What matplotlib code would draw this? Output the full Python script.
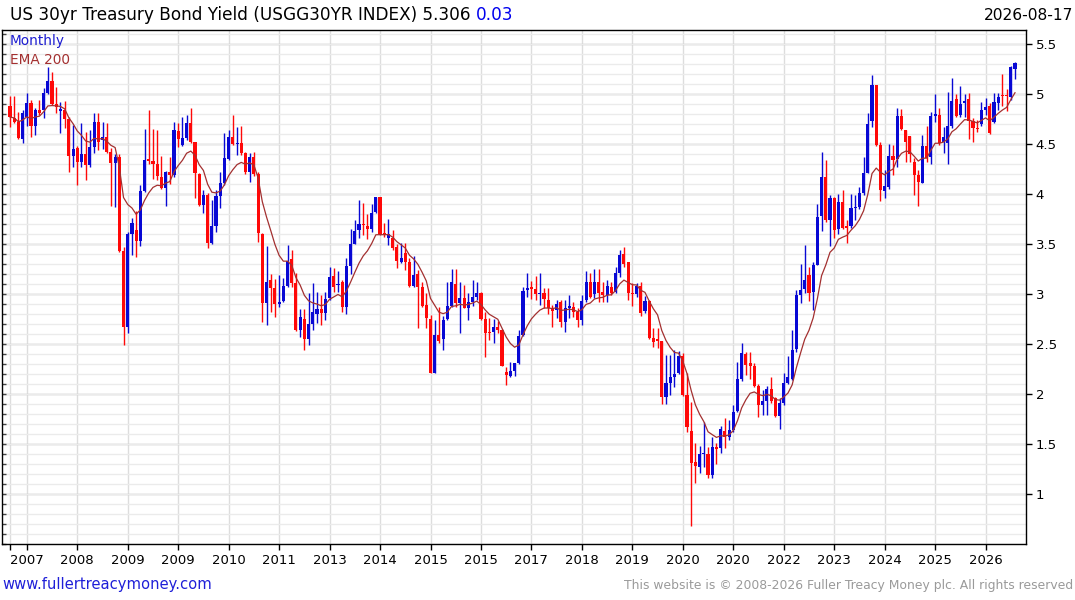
import matplotlib
matplotlib.use("Agg")
import matplotlib.pyplot as plt
import numpy as np
import pandas as pd

# ---------------- data (monthly candles, Sep 2006 .. Aug 2026) ----------------
start_month = "2006-09"
opens = [4.88, 4.76, 4.72, 4.55, 4.77, 4.91, 4.68, 4.84, 4.84, 5.01, 5.13, 4.90, 4.83, 4.84, 4.75, 4.38,
         4.46, 4.32, 4.40, 4.29, 4.47, 4.72, 4.54, 4.57, 4.42, 4.31, 4.37, 3.43, 2.67, 3.60, 3.64, 3.53,
         4.03, 4.35, 4.33, 4.30, 4.17, 4.06, 4.22, 4.19, 4.63, 4.49, 4.56, 4.71, 4.52, 4.20, 3.89, 3.99,
         3.51, 3.68, 3.98, 4.11, 4.35, 4.57, 4.50, 4.51, 4.41, 4.22, 4.37, 4.20, 3.60, 2.91, 3.14, 3.06,
         2.90, 2.93, 3.08, 3.35, 3.11, 2.64, 2.75, 2.55, 2.70, 2.80, 2.85, 2.81, 2.96, 3.18, 3.09, 3.12,
         2.87, 3.28, 3.50, 3.64, 3.70, 3.68, 3.65, 3.82, 3.97, 3.61, 3.56, 3.56, 3.47, 3.32, 3.41, 3.32,
         3.08, 3.20, 3.07, 2.89, 2.75, 2.21, 2.59, 2.55, 2.75, 2.88, 3.10, 2.91, 2.96, 2.86, 2.92, 2.97,
         3.01, 2.75, 2.62, 2.62, 2.67, 2.64, 2.22, 2.18, 2.23, 2.31, 2.59, 3.04, 3.07, 3.05, 3.00, 3.01,
         2.94, 2.86, 2.84, 2.92, 2.72, 2.86, 2.87, 2.82, 2.74, 2.94, 3.12, 3.00, 3.12, 3.02, 2.99, 3.07,
         3.02, 3.21, 3.40, 3.32, 3.01, 3.00, 3.08, 2.83, 2.93, 2.56, 2.55, 2.53, 1.97, 2.11, 2.17, 2.21,
         2.38, 1.99, 1.63, 1.32, 1.27, 1.40, 1.40, 1.19, 1.47, 1.46, 1.63, 1.57, 1.64, 1.83, 2.15, 2.40,
         2.31, 2.28, 2.08, 1.89, 1.93, 2.05, 1.96, 1.78, 1.91, 2.11, 2.15, 2.45, 2.99, 3.05, 3.19, 3.02,
         3.29, 3.78, 4.17, 3.74, 3.96, 3.65, 3.92, 3.68, 3.68, 3.86, 3.87, 4.01, 4.21, 4.73, 5.09, 4.49,
         4.03, 4.07, 4.38, 4.35, 4.78, 4.64, 4.58, 4.32, 4.19, 4.11, 4.48, 4.37, 4.78, 4.79, 4.52, 4.51,
         4.68, 4.95, 4.79, 4.91, 4.95, 4.73, 4.66, 4.70, 4.84, 4.88, 4.72, 4.91, 4.99, 4.99, 4.97, 5.25]
highs = [4.98, 4.98, 4.82, 4.84, 5.01, 4.94, 4.86, 4.94, 5.06, 5.27, 5.22, 5.07, 4.92, 4.93, 4.77, 4.69,
         4.48, 4.71, 4.62, 4.64, 4.81, 4.81, 4.72, 4.71, 4.46, 4.40, 4.40, 3.47, 3.62, 3.76, 3.83, 4.09,
         4.65, 4.84, 4.65, 4.64, 4.38, 4.23, 4.37, 4.72, 4.71, 4.77, 4.79, 4.86, 4.52, 4.21, 4.04, 4.01,
         3.94, 4.04, 4.22, 4.61, 4.64, 4.79, 4.67, 4.68, 4.42, 4.41, 4.42, 4.22, 3.61, 3.48, 3.20, 3.15,
         3.19, 3.16, 3.49, 3.44, 3.21, 2.85, 2.85, 3.01, 3.11, 3.02, 2.99, 3.02, 3.27, 3.26, 3.23, 3.14,
         3.36, 3.65, 3.74, 3.94, 3.91, 3.80, 3.90, 3.97, 3.97, 3.71, 3.75, 3.64, 3.50, 3.51, 3.51, 3.36,
         3.38, 3.24, 3.12, 3.01, 2.79, 2.74, 2.87, 2.78, 3.12, 3.25, 3.25, 3.12, 3.09, 3.01, 3.14, 3.12,
         3.02, 2.82, 2.76, 2.75, 2.73, 2.65, 2.27, 2.32, 2.31, 2.64, 3.07, 3.21, 3.13, 3.18, 3.21, 3.06,
         3.06, 2.89, 2.94, 2.94, 2.94, 2.99, 2.92, 2.86, 2.99, 3.23, 3.21, 3.25, 3.25, 3.12, 3.14, 3.12,
         3.27, 3.44, 3.47, 3.32, 3.11, 3.11, 3.12, 2.98, 2.94, 2.66, 2.66, 2.53, 2.39, 2.39, 2.44, 2.43,
         2.41, 2.21, 1.92, 1.51, 1.48, 1.72, 1.47, 1.57, 1.51, 1.68, 1.76, 1.74, 1.89, 2.32, 2.51, 2.42,
         2.42, 2.31, 2.10, 2.04, 2.08, 2.17, 1.97, 1.96, 2.21, 2.38, 2.64, 3.04, 3.30, 3.49, 3.27, 3.32,
         3.90, 4.42, 4.34, 3.99, 3.97, 4.00, 4.04, 3.74, 4.00, 3.99, 4.07, 4.37, 4.81, 5.19, 5.09, 4.52,
         4.24, 4.50, 4.49, 4.86, 4.85, 4.64, 4.58, 4.36, 4.24, 4.59, 4.68, 4.82, 5.00, 4.86, 4.67, 5.02,
         5.16, 5.00, 5.08, 5.00, 5.01, 4.76, 4.74, 4.92, 4.96, 4.91, 5.01, 5.01, 5.20, 5.05, 5.28, 5.32]
lows = [4.67, 4.71, 4.55, 4.51, 4.68, 4.57, 4.59, 4.79, 4.76, 5.00, 4.89, 4.81, 4.61, 4.66, 4.22, 4.27,
        4.09, 4.27, 4.14, 4.27, 4.41, 4.44, 4.45, 4.41, 3.88, 3.87, 3.42, 2.49, 2.61, 3.39, 3.37, 3.48,
        4.02, 4.30, 4.15, 4.14, 4.05, 3.88, 4.10, 4.17, 4.47, 4.48, 4.54, 4.51, 3.96, 3.88, 3.81, 3.46,
        3.50, 3.62, 3.86, 4.09, 4.34, 4.49, 4.39, 4.39, 4.20, 4.12, 4.18, 3.52, 2.72, 2.69, 2.82, 2.77,
        2.87, 2.92, 3.07, 3.07, 2.63, 2.57, 2.44, 2.49, 2.64, 2.71, 2.69, 2.74, 2.94, 3.02, 3.02, 2.82,
        2.80, 3.20, 3.50, 3.56, 3.59, 3.55, 3.62, 3.81, 3.59, 3.57, 3.49, 3.44, 3.26, 3.31, 3.24, 3.07,
        3.07, 2.66, 2.87, 2.66, 2.21, 2.21, 2.51, 2.44, 2.74, 2.87, 2.87, 2.61, 2.86, 2.74, 2.88, 2.94,
        2.74, 2.37, 2.54, 2.51, 2.61, 2.28, 2.09, 2.17, 2.18, 2.30, 2.58, 2.97, 2.95, 2.94, 2.89, 2.86,
        2.80, 2.67, 2.76, 2.67, 2.62, 2.76, 2.77, 2.67, 2.69, 2.92, 2.96, 2.96, 2.92, 2.92, 2.92, 2.99,
        3.01, 3.17, 3.27, 2.94, 2.88, 2.97, 2.78, 2.81, 2.55, 2.47, 2.46, 1.90, 1.90, 1.99, 2.07, 2.20,
        1.98, 1.62, 0.68, 1.11, 1.21, 1.27, 1.16, 1.16, 1.30, 1.41, 1.46, 1.54, 1.62, 1.82, 2.13, 2.19,
        2.15, 2.07, 1.77, 1.79, 1.79, 1.91, 1.77, 1.65, 1.89, 2.10, 2.14, 2.42, 2.91, 3.01, 2.93, 2.84,
        3.29, 3.63, 3.72, 3.48, 3.56, 3.60, 3.65, 3.51, 3.66, 3.74, 3.85, 3.99, 4.21, 4.67, 4.48, 3.93,
        3.96, 4.05, 4.19, 4.27, 4.64, 4.32, 4.32, 3.99, 3.88, 4.11, 4.32, 4.30, 4.72, 4.49, 4.41, 4.30,
        4.66, 4.77, 4.77, 4.77, 4.55, 4.52, 4.62, 4.68, 4.79, 4.60, 4.71, 4.84, 4.88, 4.83, 4.94, 5.15]
closes = [4.77, 4.72, 4.56, 4.81, 4.91, 4.68, 4.84, 4.81, 5.01, 5.13, 4.90, 4.87, 4.85, 4.75, 4.38, 4.45,
          4.32, 4.40, 4.29, 4.47, 4.72, 4.52, 4.57, 4.42, 4.31, 4.37, 3.43, 2.67, 3.60, 3.71, 3.53, 4.03,
          4.34, 4.33, 4.30, 4.18, 4.06, 4.22, 4.19, 4.64, 4.55, 4.56, 4.71, 4.52, 4.21, 3.89, 3.99, 3.51,
          3.68, 3.98, 4.11, 4.36, 4.57, 4.50, 4.51, 4.41, 4.22, 4.37, 4.20, 3.61, 2.91, 3.12, 3.06, 2.90,
          2.92, 3.08, 3.33, 3.11, 2.64, 2.77, 2.55, 2.70, 2.82, 2.85, 2.81, 2.95, 3.17, 3.07, 3.10, 2.87,
          3.28, 3.50, 3.63, 3.70, 3.69, 3.65, 3.81, 3.97, 3.60, 3.59, 3.60, 3.46, 3.33, 3.36, 3.32, 3.08,
          3.19, 3.07, 2.88, 2.76, 2.21, 2.59, 2.53, 2.74, 2.88, 3.12, 2.91, 2.96, 2.86, 2.92, 2.97, 3.01,
          2.75, 2.61, 2.61, 2.67, 2.64, 2.28, 2.19, 2.23, 2.31, 2.58, 3.03, 3.06, 3.05, 3.00, 3.01, 2.95,
          2.86, 2.83, 2.90, 2.72, 2.86, 2.88, 2.82, 2.74, 2.93, 3.12, 2.97, 3.12, 3.01, 2.99, 3.08, 3.01,
          3.21, 3.39, 3.30, 3.01, 3.00, 3.08, 2.81, 2.93, 2.56, 2.52, 2.53, 1.97, 2.11, 2.17, 2.20, 2.38,
          1.99, 1.67, 1.31, 1.28, 1.40, 1.41, 1.19, 1.47, 1.45, 1.65, 1.57, 1.64, 1.82, 2.15, 2.41, 2.29,
          2.28, 2.08, 1.89, 1.93, 2.05, 1.93, 1.78, 1.91, 2.11, 2.17, 2.44, 2.99, 3.04, 3.14, 3.01, 3.29,
          3.77, 4.17, 3.74, 3.96, 3.64, 3.92, 3.66, 3.66, 3.86, 3.87, 4.01, 4.21, 4.70, 5.09, 4.49, 4.04,
          4.08, 4.38, 4.34, 4.78, 4.65, 4.52, 4.40, 4.19, 4.12, 4.48, 4.36, 4.78, 4.80, 4.51, 4.57, 4.68,
          4.93, 4.78, 4.90, 4.93, 4.73, 4.66, 4.65, 4.84, 4.87, 4.61, 4.92, 4.97, 4.98, 4.98, 5.27, 5.31]

x_tick_labels = ['2007', '2008', '2009', '2009', '2010', '2011', '2013', '2014', '2015', '2015',
                 '2017', '2018', '2019', '2020', '2020', '2022', '2023', '2024', '2025', '2026']
y_tick_values = [1, 1.5, 2, 2.5, 3, 3.5, 4, 4.5, 5, 5.5]
ema_alpha = 0.19

title_main = "US 30yr Treasury Bond Yield (USGG30YR INDEX) 5.306 "
title_change = "0.03"
date_text = "2026-08-17"

# ---------------- derived ----------------
months = pd.period_range(start_month, periods=len(closes), freq="M")
idx = np.arange(len(closes))
o = np.array(opens); h = np.array(highs); l = np.array(lows); c = np.array(closes)
up = c >= o
ema = pd.Series(closes).ewm(alpha=ema_alpha, adjust=False).mean().values
jan_idx = [i for i, m in enumerate(months) if m.month == 1]

BLUE = "#0808d4"
RED = "#ff0808"

W, H = 1075, 600
fig = plt.figure(figsize=(W / 100, H / 100), dpi=100)
ax_l, ax_r, ax_t, ax_b = 1.5, 1026, 30, 544
ax = fig.add_axes([ax_l / W, (H - ax_b) / H, (ax_r - ax_l) / W, (ax_b - ax_t) / H])

px_per_unit = 1005 / 239
xmin = -(10 - ax_l) / px_per_unit
xmax = xmin + (ax_r - ax_l) / px_per_unit
ax.set_xlim(xmin, xmax)
ax.set_ylim(0.5, 5.64)

# grid
ax.set_yticks(y_tick_values)
ax.set_yticklabels([f"{v:g}" for v in y_tick_values])
ax.set_yticks(np.arange(0.5, 5.65, 0.1), minor=True)
ax.yaxis.remove_overlapping_locs = False
ax.grid(which="minor", axis="y", color="#ebebeb", lw=1, zorder=0)
ax.grid(which="major", axis="y", color="#bcbcbc", lw=1, zorder=0)
ax.set_xticks([0] + jan_idx)
ax.set_xticklabels([""] + x_tick_labels[:len(jan_idx)])
ax.grid(which="major", axis="x", color="#dddddd", lw=1, zorder=0)
ax.set_axisbelow(True)

ax.yaxis.tick_right()
ax.tick_params(axis="y", which="major", left=False, right=True, labelleft=False,
               labelright=True, direction="out", length=4, width=1, labelsize=9.5, pad=3)
ax.tick_params(axis="y", which="minor", left=True, right=False, direction="in", length=3, width=1,
               color="#444444")
ax.tick_params(axis="x", which="major", direction="out", length=4, width=1, labelsize=9.5, pad=3)
for s in ax.spines.values():
    s.set_color("black")
    s.set_linewidth(1)

# candles
colors = np.where(up, BLUE, RED)
ax.vlines(idx, l, h, colors=colors, lw=1.0, zorder=3)
body_bot = np.minimum(o, c)
body_h = np.maximum(np.abs(c - o), 0.012)
ax.bar(idx, body_h, bottom=body_bot, width=0.74, color=colors, edgecolor="none", zorder=4)

# EMA
ax.plot(idx, ema, color="#a33030", lw=0.9, zorder=5)

# texts
def fx(x):
    return x / W

def fy(y):
    return 1 - y / H

t1 = fig.text(fx(10), fy(15), title_main, fontsize=12.2, color="black", va="center", ha="left")
fig.canvas.draw()
bb = t1.get_window_extent()
fig.text(bb.x1 / W, fy(15), title_change, fontsize=12.2, color="#0000ee", va="center", ha="left")
fig.text(fx(1073), fy(15), date_text, fontsize=11.2, color="black", va="center", ha="right")

fig.text(fx(10), fy(41), "Monthly", fontsize=9.8, color="#1c1cd0", va="center", ha="left")
fig.text(fx(10), fy(60), "EMA 200", fontsize=9.8, color="#a33030", va="center", ha="left")

fig.text(fx(2), fy(585), "www.fullertreacymoney.com", fontsize=10.6, color="#1f1fd8",
         va="center", ha="left")
fig.text(fx(1073), fy(586), "This website is \u00a9 2008-2026 Fuller Treacy Money plc. All rights reserved",
         fontsize=8.9, color="#9a9a9a", va="center", ha="right")

fig.savefig("out.png", dpi=100)
